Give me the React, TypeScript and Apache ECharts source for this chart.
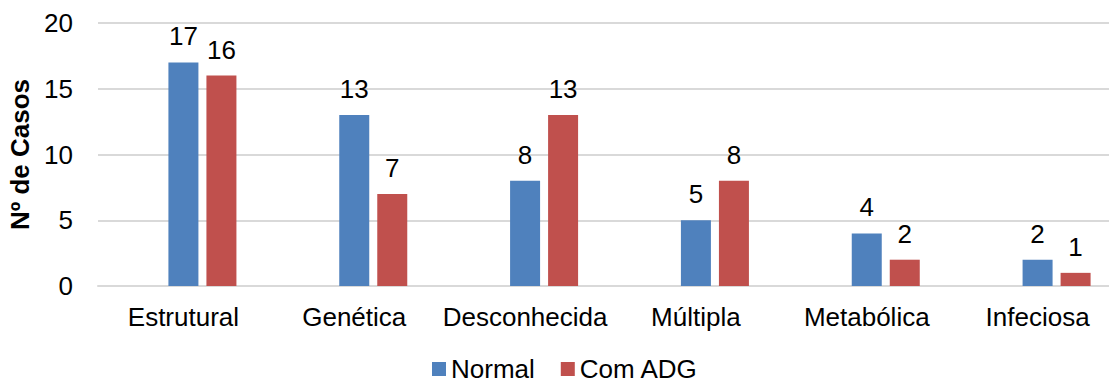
import React, { useEffect, useRef } from "react";
import * as echarts from "echarts";

const categories = ["Estrutural", "Genética", "Desconhecida", "Múltipla", "Metabólica", "Infeciosa"];
const normal = [17, 13, 8, 5, 4, 2];
const comADG = [16, 7, 13, 8, 2, 1];
const seriesNames = ["Normal", "Com ADG"];

export default function App() {
  const ref = useRef<HTMLDivElement>(null);
  useEffect(() => {
    const chart = echarts.init(ref.current!, null, { renderer: "svg" });
    const font = "Liberation Sans, Arial, sans-serif";
    const label = {
      show: true,
      position: "top",
      distance: 13,
      color: "#000",
      fontSize: 26,
      fontFamily: font,
    };
    chart.setOption({
      animation: false,
      textStyle: { fontFamily: font },
      grid: { left: 98, top: 23, bottom: 96, right: -14, containLabel: false, outerBoundsMode: "none" },
      legend: {
        data: seriesNames,
        top: 351,
        left: 427,
        padding: [5, 5, 0, 5],
        itemWidth: 14,
        itemHeight: 14,
        itemGap: 26,
        icon: "rect",
        textStyle: { fontSize: 26, lineHeight: 22, color: "#000", fontFamily: font },
      },
      xAxis: {
        type: "category",
        data: categories,
        axisLine: { lineStyle: { color: "#d9d9d9", width: 2 } },
        axisTick: { show: false },
        axisLabel: { color: "#000", fontSize: 26, fontFamily: font, margin: 18, interval: 0 },
      },
      yAxis: {
        type: "value",
        min: 0,
        max: 20,
        interval: 5,
        name: "Nº de Casos",
        nameLocation: "middle",
        nameGap: 62,
        nameTextStyle: { fontSize: 26, fontWeight: "bold", color: "#000", fontFamily: font },
        axisLabel: { color: "#000", fontSize: 26, fontFamily: font, margin: 25 },
        splitLine: { lineStyle: { color: "#d9d9d9", width: 2 } },
        axisLine: { show: false },
        axisTick: { show: false },
      },
      series: [
        { name: "_", type: "bar", data: [], barWidth: 30, barGap: "26.7%" },
        {
          name: seriesNames[0],
          type: "bar",
          data: normal,
          barWidth: 30,
          barGap: "26.7%",
          itemStyle: { color: "#4f81bd" },
          label,
        },
        {
          name: seriesNames[1],
          type: "bar",
          data: comADG,
          barWidth: 30,
          barGap: "26.7%",
          itemStyle: { color: "#c0504d" },
          label,
        },
      ],
    });
    return () => chart.dispose();
  }, []);
  return <div ref={ref} style={{ width: 1109, height: 382, position: "absolute", left: 0, top: 0 }} />;
}
